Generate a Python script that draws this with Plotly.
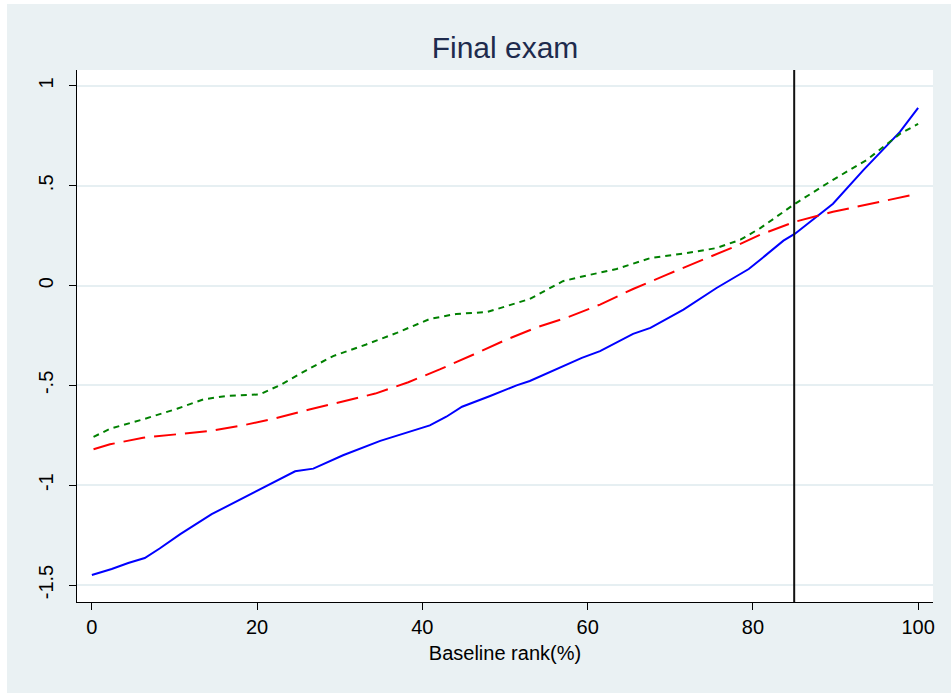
import plotly.graph_objects as go

# Blue (solid) series
blue_x = [0, 2.4, 4.4, 6.4, 8.2, 10.7, 14.5, 19.9, 22.8, 24.6, 26.8, 30.4, 34.9, 38.5, 40.9,
          42.9, 44.8, 48.2, 51.4, 53.0, 56.3, 59.3, 61.5, 65.5, 67.6, 71.6, 75.6, 79.5, 81.5,
          83.7, 85.1, 87.0, 89.7, 93.4, 97.8, 100]
blue_y = [-1.45, -1.42, -1.39, -1.365, -1.317, -1.245, -1.145, -1.03, -0.965, -0.93, -0.917,
          -0.85, -0.778, -0.733, -0.70, -0.657, -0.607, -0.553, -0.50, -0.478, -0.417, -0.362,
          -0.328, -0.242, -0.212, -0.12, -0.012, 0.083, 0.15, 0.225, 0.26, 0.32, 0.41, 0.58,
          0.77, 0.89]

# Green (dotted) series
green_x = [0.2, 2.2, 6.2, 10.3, 13.5, 16.3, 20.3, 22.8, 26, 29.2, 33.2, 36.9, 40.9, 44.1, 47.8,
           50.2, 53, 57, 59.5, 63.5, 67.6, 72, 75.6, 78.5, 80.9, 85.1, 89.7, 93.8, 97.8, 100]
green_y = [-0.758, -0.717, -0.67, -0.617, -0.57, -0.553, -0.545, -0.498, -0.423, -0.353, -0.295,
           -0.237, -0.167, -0.142, -0.133, -0.103, -0.067, 0.022, 0.047, 0.083, 0.138, 0.163,
           0.188, 0.23, 0.288, 0.41, 0.53, 0.63, 0.76, 0.81]

# Red (long dash) series
red_x = [0.2, 2.2, 6.2, 10.3, 14.3, 18.3, 22.2, 26.2, 30.2, 34.3, 38.3, 42.1, 46.2, 50.2, 53.8,
         57.5, 61.5, 65.5, 69.6, 73.6, 77.6, 80.9, 85.1, 89.7, 95.4, 100]
red_y = [-0.82, -0.795, -0.762, -0.745, -0.728, -0.70, -0.665, -0.622, -0.583, -0.541, -0.484,
         -0.42, -0.345, -0.27, -0.21, -0.16, -0.095, -0.017, 0.055, 0.125, 0.192, 0.255, 0.32,
         0.37, 0.42, 0.46]

cutoff_x = 85

x_ticks = [0, 20, 40, 60, 80, 100]
y_ticks = [-1.5, -1, -0.5, 0, 0.5, 1]
y_labels = ["-1.5", "-1", "-.5", "0", ".5", "1"]

FONT = "Liberation Sans, Arial, Helvetica, sans-serif"
BG = "#EAF1F3"

fig = go.Figure()
fig.add_trace(go.Scatter(x=blue_x, y=blue_y, mode="lines",
                         line=dict(color="#0000FF", width=2), showlegend=False))
fig.add_trace(go.Scatter(x=red_x, y=red_y, mode="lines",
                         line=dict(color="#FF0000", width=2, dash="22px,9px"), showlegend=False))
fig.add_trace(go.Scatter(x=green_x, y=green_y, mode="lines",
                         line=dict(color="#008000", width=2, dash="6px,5px"), showlegend=False))

fig.add_vline(x=cutoff_x, line=dict(color="#111111", width=2))

W, H = 951, 693
L, R, T, B = 77, 18, 70, 91
pw, ph = W - L - R, H - T - B

def px_x(p):
    return (p - L) / pw

def px_y(p):
    return (H - B - p) / ph

# white outer border strips (left and top)
fig.add_shape(type="rect", xref="paper", yref="paper",
              x0=px_x(0), x1=px_x(7), y0=px_y(H), y1=px_y(0),
              fillcolor="white", line_width=0, layer="below")
fig.add_shape(type="rect", xref="paper", yref="paper",
              x0=px_x(0), x1=px_x(W), y0=px_y(4), y1=px_y(0),
              fillcolor="white", line_width=0, layer="below")

fig.update_layout(
    width=W, height=H,
    margin=dict(l=L, r=R, t=T, b=B),
    paper_bgcolor=BG,
    plot_bgcolor="white",
    font=dict(family=FONT, color="black", size=20),
    title=dict(text="Final exam", x=0.5, xref="paper", xanchor="center",
               y=1 - 47 / H, yref="container", yanchor="middle",
               font=dict(family=FONT, size=30, color="#1E2B4D")),
    xaxis=dict(range=[-1.8, 101.8], tickvals=x_ticks, showgrid=False, zeroline=False,
               showline=True, linecolor="black", linewidth=1.2,
               ticks="outside", ticklen=7, tickwidth=1.2, tickcolor="black",
               tickfont=dict(size=20),
               title=dict(text="Baseline rank(%)", font=dict(size=20), standoff=8)),
    yaxis=dict(range=[-1.585, 1.08], tickvals=y_ticks, ticktext=y_labels, tickangle=-90,
               showgrid=True, gridcolor="#E6EFF2", gridwidth=2, zeroline=False,
               showline=True, linecolor="black", linewidth=1.2,
               ticks="outside", ticklen=7, tickwidth=1.2, tickcolor="black",
               ticklabelstandoff=8,
               tickfont=dict(size=20)),
)

fig.write_html("out.html")
